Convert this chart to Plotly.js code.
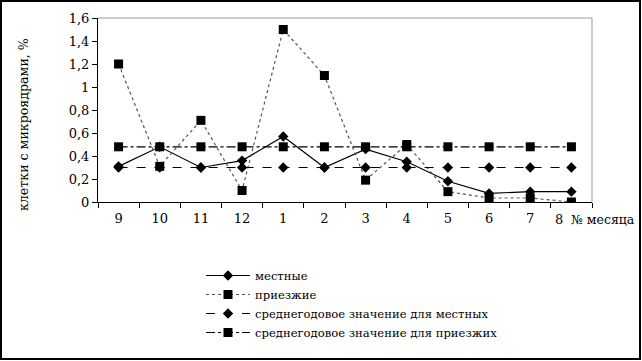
<!DOCTYPE html>
<html>
<head>
<meta charset="utf-8">
<script src="https://cdn.plot.ly/plotly-3.0.1.min.js"></script>
<style>html,body{margin:0;padding:0;background:#fff;}#chart{width:642px;height:361px;}</style>
</head>
<body>
<div id="chart"></div>
<script>
const months = ["9","10","11","12","1","2","3","4","5","6","7","8"];
const monthLabels = ["9","10","11","12","1","2","3","4","5","6","7",""];
const local = [0.31, 0.48, 0.30, 0.36, 0.57, 0.30, 0.46, 0.35, 0.18, 0.075, 0.09, 0.09];
const migrants = [1.20, 0.31, 0.71, 0.10, 1.50, 1.10, 0.19, 0.50, 0.09, 0.035, 0.035, 0.0];
const meanLocal = [0.30, 0.30, 0.30, 0.30, 0.30, 0.30, 0.30, 0.30, 0.30, 0.30, 0.30, 0.30];
const meanMigrants = [0.48, 0.48, 0.48, 0.48, 0.48, 0.48, 0.48, 0.48, 0.48, 0.48, 0.48, 0.48];
const names = ["местные", "приезжие", "среднегодовое значение для местных", "среднегодовое значение для приезжих"];

const W = 642, H = 361, L = 98, R = 592, T = 18, B = 202;
const px = v => (v - L) / (R - L);
const py = v => (B - v) / (B - T);

const traces = [
  {x: months, y: local, name: names[0], mode: "lines+markers",
   line: {color: "#000", width: 1.2, dash: "solid"},
   marker: {symbol: "diamond", size: 8, color: "#000"}},
  {x: months, y: migrants, name: names[1], mode: "lines+markers",
   line: {color: "#555", width: 1.2, dash: "dot"},
   marker: {symbol: "square", size: 9, color: "#000"}},
  {x: months, y: meanLocal, name: names[2], mode: "lines+markers",
   line: {color: "#000", width: 1.2, dash: "dash"},
   marker: {symbol: "diamond", size: 8, color: "#000"}},
  {x: months, y: meanMigrants, name: names[3], mode: "lines+markers",
   line: {color: "#000", width: 1.2, dash: "dashdot"},
   marker: {symbol: "square", size: 9, color: "#000"}}
];

const FAM = "DejaVu Serif";
const font = {family: FAM, size: 13, color: "#000"};

const layout = {
  width: W, height: H,
  margin: {l: L, r: W - R, t: T, b: H - B, autoexpand: false},
  paper_bgcolor: "#fff", plot_bgcolor: "#fff",
  separators: ", ",
  font: font,
  showlegend: true,
  legend: {x: px(201), y: py(261), xanchor: "left", yanchor: "top",
    font: {family: FAM, size: 11.6, color: "#000"},
    bgcolor: "rgba(0,0,0,0)", tracegroupgap: 0, itemwidth: 44},
  xaxis: {type: "category", categoryorder: "array", categoryarray: months,
    tickvals: months, ticktext: monthLabels, tickangle: 0, automargin: false,
    range: [-0.5, 11.5], tickson: "boundaries", ticks: "outside", ticklen: 5,
    ticklabelstandoff: 4,
    tickcolor: "#000", showline: true, linecolor: "#000", linewidth: 1,
    showgrid: false, zeroline: false, tickfont: font, fixedrange: true},
  yaxis: {range: [0, 1.6], dtick: 0.2, tick0: 0, ticks: "outside", ticklen: 5,
    automargin: false,
    tickcolor: "#000", showline: true, linecolor: "#000", linewidth: 1,
    showgrid: false, zeroline: false, tickfont: font, fixedrange: true},
  shapes: [
    {type: "line", xref: "paper", yref: "paper", x0: 0, x1: 1, y0: 1, y1: 1,
     line: {color: "#999", width: 1}},
    {type: "line", xref: "paper", yref: "paper", x0: 1, x1: 1, y0: 0, y1: 1,
     line: {color: "#999", width: 1}},
    {type: "rect", xref: "paper", yref: "paper", x0: px(1), x1: px(640), y0: py(1), y1: py(359),
     line: {color: "#000", width: 2}, fillcolor: "rgba(0,0,0,0)", layer: "below"}
  ],
  annotations: [
    {text: "клетки с микроядрами, %", xref: "paper", yref: "paper",
     x: px(23), y: py(125), textangle: -90, showarrow: false,
     xanchor: "center", yanchor: "middle", font: {family: FAM, size: 12.6, color: "#000"}},
    {text: months[11], xref: "paper", yref: "paper",
     x: px(559), y: py(219), showarrow: false,
     xanchor: "center", yanchor: "middle", font: font},
    {text: "№ месяца", xref: "paper", yref: "paper",
     x: px(569), y: py(219), showarrow: false,
     xanchor: "left", yanchor: "middle", font: {family: FAM, size: 12.5, color: "#000"}}
  ]
};

Plotly.newPlot("chart", traces, layout, {displayModeBar: false, staticPlot: true});
</script>
</body>
</html>
